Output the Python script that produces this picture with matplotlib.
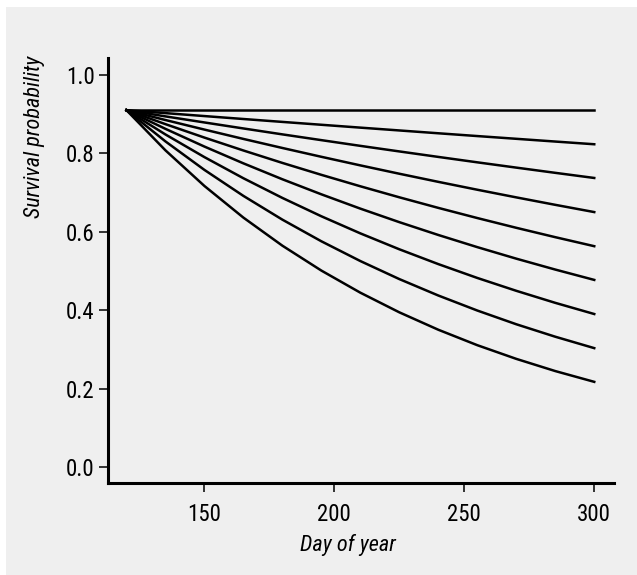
import matplotlib
matplotlib.use('Agg')
import matplotlib.pyplot as plt
from matplotlib.patches import Rectangle
from matplotlib import font_manager

days = [120, 135, 150, 165, 180, 195, 210, 225, 240, 255, 270, 285, 300]

# survival probability curves, top to bottom
curves = [
    [0.910, 0.910, 0.910, 0.910, 0.910, 0.910, 0.910, 0.910, 0.910, 0.910, 0.910, 0.910, 0.910],
    [0.910, 0.9024, 0.8949, 0.8874, 0.8800, 0.8727, 0.8654, 0.8582, 0.8510, 0.8439, 0.8369, 0.8299, 0.823],
    [0.910, 0.8941, 0.8786, 0.8633, 0.8482, 0.8335, 0.8189, 0.8047, 0.7907, 0.7769, 0.7634, 0.7501, 0.737],
    [0.910, 0.8848, 0.8604, 0.8366, 0.8135, 0.7910, 0.7691, 0.7478, 0.7271, 0.7070, 0.6875, 0.6685, 0.650],
    [0.910, 0.8743, 0.8400, 0.8071, 0.7754, 0.7450, 0.7158, 0.6877, 0.6607, 0.6348, 0.6099, 0.5860, 0.563],
    [0.910, 0.8623, 0.8171, 0.7743, 0.7337, 0.6953, 0.6588, 0.6243, 0.5916, 0.5606, 0.5312, 0.5034, 0.477],
    [0.910, 0.8480, 0.7902, 0.7363, 0.6861, 0.6393, 0.5957, 0.5551, 0.5173, 0.4820, 0.4492, 0.4185, 0.390],
    [0.910, 0.8303, 0.7576, 0.6913, 0.6307, 0.5755, 0.5251, 0.4791, 0.4372, 0.3989, 0.3639, 0.3321, 0.303],
    [0.910, 0.8075, 0.7166, 0.6359, 0.5643, 0.5008, 0.4444, 0.3943, 0.3499, 0.3105, 0.2756, 0.2445, 0.217],
]

xticks = [150, 200, 250, 300]
yticks = [0.0, 0.2, 0.4, 0.6, 0.8, 1.0]

# narrow face if there is one
names = set(f.name for f in font_manager.fontManager.ttflist)
narrow = [n for n in ['Liberation Sans Narrow', 'Roboto Condensed'] if n in names]
plt.rcParams['font.family'] = narrow + ['Roboto', 'DejaVu Sans']
plt.rcParams['font.stretch'] = 'condensed'

W, H = 637, 575
fig = plt.figure(figsize=(W / 100, H / 100), dpi=100)
fig.patch.set_facecolor('white')
# grey panel with thin white margin top/left
fig.patches.append(Rectangle((6 / W, 0), 1, 1 - 7 / H, transform=fig.transFigure,
                             facecolor='#efefef', edgecolor='none', zorder=-10))

ax = fig.add_axes([108 / W, (H - 483) / H, (614 - 108) / W, (483 - 58) / H])
ax.set_facecolor('none')

for c in curves:
    ax.plot(days, c, color='black', lw=1.8, solid_joinstyle='round')

ax.set_xlim(112.9, 307.6)
ax.set_ylim(-0.041, 1.043)
ax.set_xticks(xticks)
ax.set_xticklabels([str(t) for t in xticks])
ax.set_yticks(yticks)
ax.set_yticklabels(['%.1f' % t for t in yticks])

for s in ['top', 'right']:
    ax.spines[s].set_visible(False)
for s in ['left', 'bottom']:
    ax.spines[s].set_linewidth(2.2)
ax.tick_params(length=6.5, width=1.1, labelsize=16.5, pad=3)
ax.tick_params(axis='x', pad=8)

ax.set_xlabel('Day of year', style='italic', fontsize=16, va='center')
ax.set_ylabel('Survival probability', style='italic', fontsize=16, va='center')
ax.xaxis.set_label_coords(0.474, -0.146)
ax.yaxis.set_label_coords(-0.146, 0.814)

fig.savefig('out.png', dpi=100)
